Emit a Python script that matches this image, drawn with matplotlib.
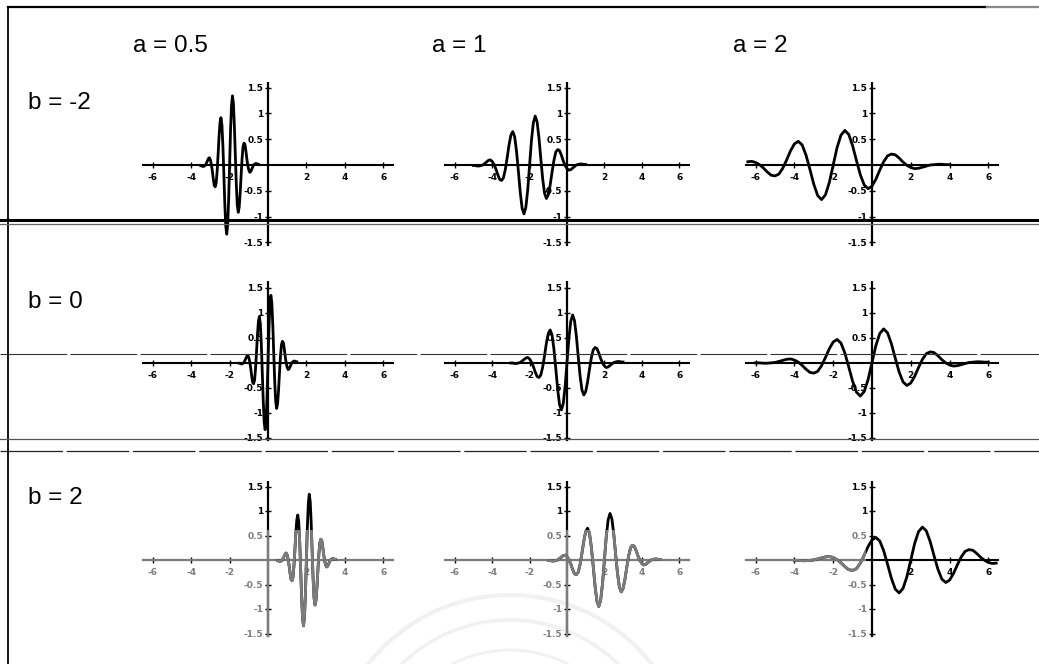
import numpy as np
import matplotlib
matplotlib.use("Agg")
import matplotlib.pyplot as plt
from matplotlib.patches import Rectangle, Circle
from matplotlib.lines import Line2D

# ---------------- data ----------------
a_values = [0.5, 1, 2]          # columns (scale)
b_values = [-2, 0, 2]           # rows (shift)
col_labels = ["a = 0.5", "a = 1", "a = 2"]
row_labels = ["b = -2", "b = 0", "b = 2"]

# mother wavelet samples read from the a = 1, b = 0 panel
mother_t = [-3.0, -2.9, -2.8, -2.7, -2.6, -2.5, -2.4, -2.3, -2.2, -2.1,
            -2.0, -1.9, -1.8, -1.7, -1.6, -1.5, -1.4, -1.3, -1.2, -1.1,
            -1.0, -0.9, -0.8, -0.7, -0.6, -0.5, -0.4, -0.3, -0.2, -0.1,
            0.0, 0.1, 0.2, 0.3, 0.4, 0.5, 0.6, 0.7, 0.8, 0.9,
            1.0, 1.1, 1.2, 1.3, 1.4, 1.5, 1.6, 1.7, 1.8, 1.9,
            2.0, 2.1, 2.2, 2.3, 2.4, 2.5, 2.6, 2.7, 2.8, 2.9, 3.0]
mother_psi = [-0.01, -0.01, -0.02, -0.02, -0.01, 0.00, 0.03, 0.06, 0.09, 0.10,
              0.07, 0.01, -0.08, -0.19, -0.28, -0.30, -0.25, -0.09, 0.14, 0.39,
              0.58, 0.65, 0.55, 0.27, -0.12, -0.53, -0.84, -0.95, -0.82, -0.48,
              0.00, 0.48, 0.82, 0.95, 0.84, 0.53, 0.12, -0.27, -0.55, -0.65,
              -0.58, -0.39, -0.14, 0.09, 0.25, 0.30, 0.28, 0.19, 0.08, -0.01,
              -0.07, -0.10, -0.09, -0.06, -0.03, 0.00, 0.01, 0.02, 0.02, 0.01, 0.01]

x_ticks = [-6, -4, -2, 2, 4, 6]
x_tick_labels = ["-6", "-4", "-2", "2", "4", "6"]
y_ticks = [-1.5, -1, -0.5, 0.5, 1, 1.5]
y_tick_labels = ["-1.5", "-1", "-0.5", "0.5", "1", "1.5"]

# ---------------- layout ----------------
W, H = 1039, 664
fig = plt.figure(figsize=(W / 100, H / 100), dpi=100)
fig.patch.set_facecolor("white")

col_x0 = [268, 567, 872]
col_sx = [19.2, 18.7, 19.4]
row_y0 = [165, 362.5, 560]
row_sy = [51.5, 50.0, 49.0]
XL, YL = 6.6, 1.62
GRAY = "#7c7c7c"
GX, GY = 866, 530      # faded scan region: x < GX and y > GY (pixels from top-left)


def in_gray(px, py):
    return px < GX and py > GY


def gray_clip():
    return Rectangle((0, 0), GX / W, (H - GY) / H, transform=fig.transFigure,
                     facecolor="none", edgecolor="none")


# watermark (very faint seal)
bg = fig.add_axes([0, 0, 1, 1], zorder=-5)
bg.set_xlim(0, W)
bg.set_ylim(H, 0)
bg.axis("off")
for rad, lw in [(180, 3), (155, 2.5), (125, 2)]:
    bg.add_patch(Circle((510, 775), rad, fill=False, ec="#f1f1f1", lw=lw))

# frame / scan lines
def fline(x1, y1, x2, y2, **kw):
    fig.add_artist(Line2D([x1 / W, x2 / W], [1 - y1 / H, 1 - y2 / H],
                          transform=fig.transFigure, **kw))

fline(8, 7, 987, 7, color="black", lw=1.6)
fline(987, 7, W, 7, color="#888888", lw=1.6)
fline(8, 7, 8, H, color="black", lw=1.3)
fline(0, 220, W, 220, color="black", lw=2.2)
fline(0, 224, W, 224, color="#666666", lw=0.9)
fline(0, 354, W, 354, color="#333333", lw=0.8, ls=(0, (60, 3)))
fline(0, 439, W, 439, color="#555555", lw=0.9)
fline(0, 451, W, 451, color="#222222", lw=0.9, ls=(0, (50, 3)))

t = np.array(mother_t)
psi = np.array(mother_psi)

for r, b in enumerate(b_values):
    for c, a in enumerate(a_values):
        x0, sx = col_x0[c], col_sx[c]
        y0, sy = row_y0[r], row_sy[r]
        ax = fig.add_axes([(x0 - XL * sx) / W, 1 - (y0 + YL * sy) / H,
                           2 * XL * sx / W, 2 * YL * sy / H])
        ax.set_xlim(-XL, XL)
        ax.set_ylim(-YL, YL)
        ax.patch.set_alpha(0)

        x = b + a * t
        y = psi / np.sqrt(a)
        m = (x >= -6.5) & (x <= 6.5)

        def draw(color, clip=False):
            arts = []
            arts.append(ax.axhline(0, xmin=(XL - 6.5) / (2 * XL), xmax=(XL + 6.5) / (2 * XL),
                                   color=color, lw=1.5, zorder=2))
            arts.append(ax.axvline(0, ymin=(YL - 1.55) / (2 * YL), ymax=(YL + 1.6) / (2 * YL),
                                   color=color, lw=1.6, zorder=2))
            arts += ax.plot(x[m], y[m], color=color, lw=2.0, zorder=3,
                            solid_joinstyle="round")
            if clip:
                for art in arts:
                    art.set_clip_path(gray_clip())
            return arts

        draw("black")
        if r == 2:
            draw(GRAY, clip=True)

        for sp in ax.spines.values():
            sp.set_color("none")
        ax.spines["bottom"].set_position(("data", 0))
        ax.spines["left"].set_position(("data", 0))
        ax.xaxis.set_ticks_position("bottom")
        ax.yaxis.set_ticks_position("left")
        ax.set_xticks(x_ticks, x_tick_labels)
        ax.set_yticks(y_ticks, y_tick_labels)
        ax.tick_params(axis="x", direction="inout", length=4, width=1, pad=4,
                       labelsize=6.5)
        ax.tick_params(axis="y", direction="inout", length=4, width=1, pad=1.5,
                       labelsize=6.5)
        for lab in ax.get_xticklabels() + ax.get_yticklabels():
            lab.set_fontweight("bold")
        if r == 2:
            for tick, v in zip(ax.xaxis.get_major_ticks(), x_ticks):
                if in_gray(x0 + v * sx, y0 + 12):
                    tick.label1.set_color(GRAY)
                    tick.tick1line.set_color(GRAY)
            for tick, v in zip(ax.yaxis.get_major_ticks(), y_ticks):
                if in_gray(x0 - 8, y0 - v * sy):
                    tick.label1.set_color(GRAY)
                    tick.tick1line.set_color(GRAY)

# column and row labels
col_label_x = [133, 432, 733]
for s, px in zip(col_labels, col_label_x):
    fig.text(px / W, 1 - 46 / H, s, fontsize=17.5, family="Liberation Sans",
             ha="left", va="center")
row_label_y = [103, 302, 498]
for s, py in zip(row_labels, row_label_y):
    fig.text(28 / W, 1 - py / H, s, fontsize=17.5, family="Liberation Sans",
             ha="left", va="center")

fig.savefig("out.png", dpi=100)
